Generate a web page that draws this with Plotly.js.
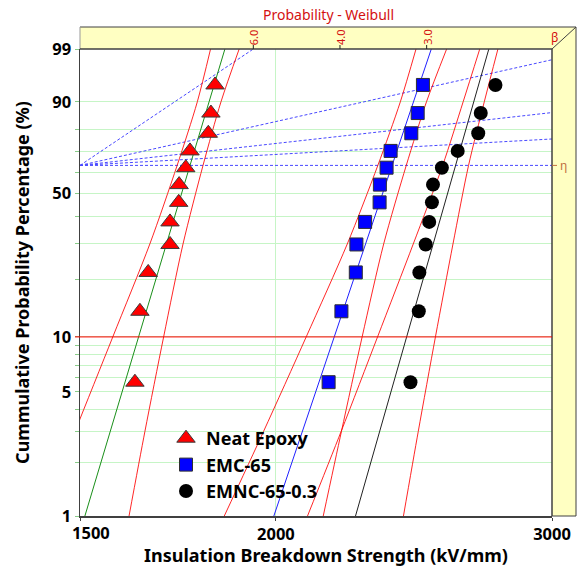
<!DOCTYPE html>
<html><head><meta charset="utf-8">
<script src="https://cdn.plot.ly/plotly-3.0.1.min.js"></script>
<style>html,body{margin:0;padding:0;background:#fff}</style>
</head><body><div id="chart" style="width:582px;height:571px"></div>
<script>
// ---- data ----
const seriesNames = ['Neat Epoxy', 'EMC-65', 'EMNC-65-0.3'];
// median-rank cumulative probability (%) of the 12 specimens
const rankPct = [5.65, 13.71, 21.77, 29.84, 37.90, 45.97, 54.03, 62.10, 70.16, 78.23, 86.29, 94.35];
const neatEpoxy = [1626, 1638, 1658, 1712, 1712, 1734, 1735, 1752, 1763, 1811, 1818, 1829];
const emc65 = [2161, 2202, 2249, 2251, 2280, 2329, 2330, 2353, 2367, 2440, 2463, 2482];
const emnc653 = [2437, 2467, 2469, 2492, 2505, 2515, 2519, 2552, 2612, 2692, 2702, 2761];
// Weibull fit lines (shape beta, scale eta)
const fitBeta = [29.8, 26.5, 31.3];
const fitEta = [1763, 2372, 2604];
// confidence bounds: strength at these probability levels (%)
const boundPct = [1, 3, 10, 30, 63.2, 90, 99];
const neatLower = [1418, 1489, 1574, 1662, 1730, 1782, 1817];
const neatUpper = [1612, 1650, 1696, 1745, 1797, 1845, 1895];
const emcLower = [1854, 1964, 2091, 2221, 2323, 2401, 2457];
const emcUpper = [2144, 2202, 2270, 2343, 2422, 2495, 2570];
const emncLower = [2095, 2201, 2322, 2447, 2555, 2633, 2698];
const emncUpper = [2412, 2465, 2528, 2594, 2654, 2716, 2771];
// axes
const xRange = [1500, 3000];
const xTicks = [1500, 2000, 3000];
const xTickText = ['1500', '2000', '3000'];
const xTitle = 'Insulation Breakdown Strength (kV/mm)';
const yTitle = 'Cummulative Probability Percentage (%)';
const yRangePct = [1, 99];
const yGridPct = [1, 2, 3, 4, 5, 6, 7, 8, 9, 10, 20, 30, 40, 50, 60, 70, 80, 90, 99];
const yLabelPct = [1, 5, 10, 50, 90, 99];
const betaTickVals = [6, 4, 3];
const betaTickText = ['6.0', '4.0', '3.0'];
const betaGuides = [6, 2, 1, 0.5, 0];

// ---- helpers ----
const W = p => Math.log(-Math.log(1 - p / 100));   // Weibull probability scale
const L = 80, R = 30, T = 49, B = 55, WID = 582, HEI = 571;
const PW = WID - L - R, PH = HEI - T - B;
const PX = px => (px - L) / PW;                  // pixel -> paper
const PY = py => (HEI - B - py) / PH;
const wTop = W(yRangePct[1]);

const markerStyles = [
  {symbol: 'triangle-up', size: 16, color: '#ff0000', line: {color: '#3a3a3a', width: 1}},
  {symbol: 'square', size: 13, color: '#0000ff', line: {color: '#303030', width: 1}},
  {symbol: 'circle', size: 14, color: '#000000', line: {color: '#000', width: 0}}
];
const fitColors = ['#1a8f1a', '#2020ff', '#222222'];
const seriesX = [neatEpoxy, emc65, emnc653];
const bounds = [[neatLower, neatUpper], [emcLower, emcUpper], [emncLower, emncUpper]];

const traces = [];
// beta guide lines from the pivot
betaGuides.forEach(b => {
  traces.push({x: [xRange[0], xRange[1]], y: [0, b * Math.log(xRange[1] / xRange[0])],
    mode: 'lines', line: {color: '#4848ff', width: 1, dash: '3px,2px'}, showlegend: false, hoverinfo: 'skip'});
});
// confidence bounds
bounds.forEach(pair => pair.forEach(arr => {
  traces.push({x: arr, y: boundPct.map(W), mode: 'lines',
    line: {color: 'rgba(255,0,0,0.85)', width: 1, shape: 'spline', smoothing: 0.8},
    showlegend: false, hoverinfo: 'skip'});
}));
// fit lines
fitBeta.forEach((b, i) => {
  const xs = [1350, 3300];
  traces.push({x: xs, y: xs.map(v => b * Math.log(v / fitEta[i])), mode: 'lines',
    line: {color: fitColors[i], width: 1}, showlegend: false, hoverinfo: 'skip'});
});
// data points
seriesX.forEach((xs, i) => {
  traces.push({x: xs, y: rankPct.map(W), mode: 'markers', name: seriesNames[i],
    marker: markerStyles[i], cliponaxis: false});
});
// pivot
traces.push({x: [xRange[0]], y: [0], mode: 'markers', marker: {color: '#0000ff', size: 10},
  cliponaxis: false, showlegend: false});

const yell = '#ffffc2', edge = '#404040';
const shapes = [
  {type: 'rect', xref: 'paper', yref: 'paper', x0: 0, x1: PX(576), y0: 1, y1: PY(27), fillcolor: yell, line: {width: 0}, layer: 'below'},
  {type: 'rect', xref: 'paper', yref: 'paper', x0: 1, x1: PX(576), y0: 0, y1: 1, fillcolor: yell, line: {width: 0}, layer: 'below'},
  {type: 'line', xref: 'paper', yref: 'paper', x0: 0, x1: PX(576), y0: PY(27), y1: PY(27), line: {color: edge, width: 1}},
  {type: 'line', xref: 'paper', yref: 'paper', x0: PX(576), x1: PX(576), y0: 0, y1: PY(27), line: {color: edge, width: 1}},
  {type: 'line', xref: 'paper', yref: 'paper', x0: 0, x1: 0, y0: 1, y1: PY(27), line: {color: '#999', width: 1}},
  {type: 'line', xref: 'paper', yref: 'paper', x0: 1, x1: PX(576), y0: 1, y1: PY(27), line: {color: edge, width: 1}},
  {type: 'line', xref: 'paper', yref: 'paper', x0: 0, x1: 1, y0: 1, y1: 1, line: {color: edge, width: 1.5}},
  {type: 'line', xref: 'paper', yref: 'paper', x0: 1, x1: 1, y0: 0, y1: 1, line: {color: edge, width: 1.5}},
  {type: 'line', xref: 'paper', yref: 'paper', x0: 1, x1: PX(576), y0: 0, y1: 0, line: {color: edge, width: 1}},
  {type: 'line', xref: 'paper', yref: 'y', x0: PX(75), x1: 1, y0: W(10), y1: W(10), line: {color: '#ff0000', width: 1}},
  {type: 'line', xref: 'paper', yref: 'y', x0: 1, x1: PX(557), y0: 0, y1: 0, line: {color: '#c07040', width: 1}}
];
const tickFont = {family: 'Noto Sans', size: 16.5, color: '#000', weight: 700};
const titleFont = {family: 'Noto Sans', size: 18, color: '#000', weight: 700};
const annotations = [
  {text: 'Probability - Weibull', xref: 'paper', yref: 'paper', x: PX(328), y: PY(14), showarrow: false,
   font: {family: 'Noto Sans', size: 14, color: '#d41010'}, xanchor: 'center', yanchor: 'middle'},
  {text: 'β', xref: 'paper', yref: 'paper', x: PX(554), y: PY(37), showarrow: false,
   font: {family: 'Noto Sans', size: 12, color: '#d41010'}, xanchor: 'center', yanchor: 'middle'},
  {text: 'η', xref: 'paper', yref: 'y', x: PX(563), y: 0, showarrow: false,
   font: {family: 'Noto Sans', size: 12, color: '#c07040'}, xanchor: 'center', yanchor: 'middle'},
  // first x tick label sits right of its tick in the reference
  {text: xTickText[0], xref: 'paper', yref: 'paper', x: PX(91), y: PY(532), showarrow: false,
   font: tickFont, xanchor: 'center', yanchor: 'middle'},
  {text: xTitle, xref: 'paper', yref: 'paper', x: PX(326), y: PY(555), showarrow: false,
   font: titleFont, xanchor: 'center', yanchor: 'middle'}
];
betaTickVals.forEach((b, i) => {
  const p = (wTop / b) / Math.log(xRange[1] / xRange[0]);
  shapes.push({type: 'line', xref: 'paper', yref: 'paper', x0: p, x1: p, y0: 1, y1: PY(45), line: {color: '#222', width: 1}});
  annotations.push({text: betaTickText[i], xref: 'paper', yref: 'paper', x: p, y: PY(37), textangle: -90,
    showarrow: false, font: {family: 'Noto Sans', size: 11, color: '#d41010'}, xanchor: 'center', yanchor: 'middle'});
});

const layout = {
  width: WID, height: HEI, margin: {l: L, r: R, t: T, b: B, pad: 0},
  paper_bgcolor: '#fff', plot_bgcolor: '#fff', showlegend: true,
  xaxis: {type: 'log', range: xRange.map(Math.log10), tickmode: 'array', tickvals: xTicks,
    ticktext: xTickText.map((t, i) => i === 0 ? '' : t),
    showgrid: true, gridcolor: '#c6f5c6', gridwidth: 1, zeroline: false, showline: true, linecolor: edge, linewidth: 1.5,
    ticks: 'outside', ticklen: 3, tickcolor: edge, tickfont: tickFont},
  yaxis: {range: yRangePct.map(W), tickmode: 'array', tickvals: yGridPct.map(W),
    ticktext: yGridPct.map(p => yLabelPct.includes(p) ? String(p) : ''),
    showgrid: true, gridcolor: '#c6f5c6', gridwidth: 1, zeroline: false, showline: true, linecolor: edge, linewidth: 1.5,
    ticks: 'outside', ticklen: 4, tickcolor: '#8c8', tickfont: tickFont,
    title: {text: yTitle, font: titleFont, standoff: 18}},
  legend: {x: PX(166), y: PY(420), xanchor: 'left', yanchor: 'top', bgcolor: 'rgba(0,0,0,0)',
    font: {family: 'Noto Sans', size: 18, color: '#000', weight: 700}, itemwidth: 30, tracegroupgap: 0},
  shapes: shapes, annotations: annotations
};
Plotly.newPlot('chart', traces, layout, {staticPlot: true, displayModeBar: false});
</script></body></html>
